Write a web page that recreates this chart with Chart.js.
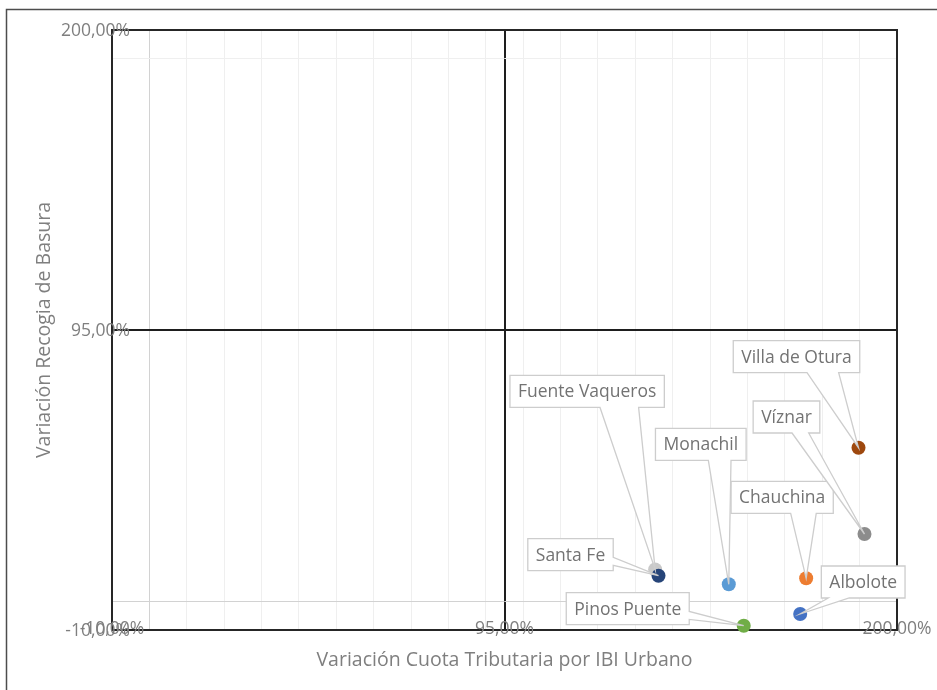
<!DOCTYPE html>
<html>
<head>
<meta charset="utf-8">
<script src="https://cdn.jsdelivr.net/npm/chart.js@4"></script>
<style>
  html, body { margin: 0; padding: 0; background: #fff; }
  canvas { display: block; }
</style>
</head>
<body>
<canvas id="cuadrante" width="937" height="690"></canvas>
<script>
const municipios = ['Albolote', 'Chauchina', 'Fuente Vaqueros', 'Monachil', 'Pinos Puente', 'Santa Fe', 'Víznar', 'Villa de Otura'];
const variacionIBI = [174.1, 175.7, 135.3, 155.0, 159.0, 136.2, 191.3, 189.7];
const variacionBasura = [-4.4, 8.1, 11.2, 6.0, -8.5, 9.0, 23.6, 53.8];
const tickValues = [-10, 95, 200];

const colores = ['#4472C4', '#ED7D31', '#C9C9C9', '#5B9BD5', '#70AD47', '#264478', '#8C8C8C', '#9E480E'];
// where each callout box sits, relative to its point (px)
const calloutOffsets = [[63, -32], [-24, -81], [-68, -178], [-28, -140], [-116, -17], [-88, -21], [-78, -117], [-62, -91]];

const gris = '#7f7f7f';
const fmt = v => v.toFixed(2).replace('.', ',') + '%';

const puntos = variacionIBI.map((x, i) => ({ x: x, y: variacionBasura[i] }));

const xTicks = [];
for (let v = -10; v <= 200; v += 10) {
    xTicks.push(v);
    if (v === 90) xTicks.push(95);
}
const yTicks = [-10, 0, 95, 190, 200];

function gridColor(ctx) {
    const v = ctx.tick.value;
    if (v === 95) return '#1e1e1e';
    if (v === 0) return '#d2d2d2';
    if (v === -10 || v === 200) return 'rgba(0,0,0,0)';
    return '#efefef';
}

const marco = {
    id: 'marco',
    beforeDraw(chart) {
        const ctx = chart.ctx;
        ctx.save();
        ctx.strokeStyle = '#4d4d4d';
        ctx.lineWidth = 1.5;
        ctx.beginPath();
        ctx.moveTo(6.5, 690);
        ctx.lineTo(6.5, 9.5);
        ctx.lineTo(937, 9.5);
        ctx.stroke();
        ctx.restore();
    },
    beforeDatasetsDraw(chart) {
        const { ctx, chartArea: a, scales } = chart;
        ctx.save();
        ctx.strokeStyle = '#262626';
        ctx.lineWidth = 2;
        ctx.strokeRect(a.left, a.top, a.right - a.left, a.bottom - a.top);

        // tick labels, sitting across the axis lines like the original
        ctx.fillStyle = gris;
        ctx.font = '17.5px "Open Sans"';
        ctx.textBaseline = 'middle';
        ctx.textAlign = 'right';
        tickValues.forEach(v => {
            ctx.fillText(fmt(v), a.left + 18, scales.y.getPixelForValue(v) + 1);
        });
        ctx.textAlign = 'center';
        tickValues.forEach(v => {
            ctx.fillText(fmt(v), scales.x.getPixelForValue(v), a.bottom - 1);
        });
        ctx.restore();
    },
    afterDatasetsDraw(chart) {
        const ctx = chart.ctx;
        const meta = chart.getDatasetMeta(0);
        ctx.save();
        ctx.font = '17.5px "Open Sans"';
        meta.data.forEach((pt, i) => {
            const px = pt.x, py = pt.y;
            const [dx, dy] = calloutOffsets[i];
            const text = municipios[i];
            const w = ctx.measureText(text).width + 16;
            const h = 32;
            const cx = px + dx, cy = py + dy;
            const l = cx - w / 2, r = cx + w / 2, t = cy - h / 2, b = cy + h / 2;
            const horiz = Math.abs(dx) / w > Math.abs(dy) / h;
            const pts = [[l, t], [r, t], [r, b], [l, b]];
            if (horiz) {
                const f = py > cy ? [7 / 12, 10 / 12] : [2 / 12, 5 / 12];
                if (px > cx) {
                    pts.splice(2, 0, [r, t + f[0] * h], [px, py], [r, t + f[1] * h]);
                } else {
                    pts.push([l, t + f[1] * h], [px, py], [l, t + f[0] * h]);
                }
            } else {
                const f = px > cx ? [7 / 12, 10 / 12] : [1 / 12, 4 / 12];
                if (py > cy) {
                    pts.splice(3, 0, [l + f[1] * w, b], [px, py], [l + f[0] * w, b]);
                } else {
                    pts.splice(1, 0, [l + f[0] * w, t], [px, py], [l + f[1] * w, t]);
                }
            }
            ctx.beginPath();
            pts.forEach((p, k) => k ? ctx.lineTo(p[0], p[1]) : ctx.moveTo(p[0], p[1]));
            ctx.closePath();
            ctx.fillStyle = '#ffffff';
            ctx.fill();
            ctx.strokeStyle = '#cdcdcd';
            ctx.lineWidth = 1.3;
            ctx.stroke();
            ctx.fillStyle = '#737373';
            ctx.textAlign = 'center';
            ctx.textBaseline = 'middle';
            ctx.fillText(text, cx, cy + 1);
        });
        ctx.restore();
    }
};

new Chart(document.getElementById('cuadrante'), {
    type: 'scatter',
    data: {
        datasets: [{
            label: 'Municipios',
            data: puntos,
            pointRadius: 7,
            pointHoverRadius: 7,
            pointBorderWidth: 0,
            pointBackgroundColor: colores,
            clip: false,
        }],
    },
    options: {
        responsive: false,
        animation: false,
        layout: { padding: { left: 0, right: 40, top: 30, bottom: 0 } },
        plugins: {
            legend: { display: false },
            tooltip: { enabled: false },
        },
        scales: {
            x: {
                type: 'linear',
                min: -10,
                max: 200,
                afterBuildTicks: s => { s.ticks = xTicks.map(v => ({ value: v })); },
                afterFit: s => { s.height = 60; },
                ticks: { display: false, autoSkip: false },
                grid: {
                    color: gridColor,
                    lineWidth: c => c.tick.value === 95 ? 2 : 1,
                    drawTicks: false,
                },
                border: { display: false },
                title: {
                    display: true,
                    text: 'Variación Cuota Tributaria por IBI Urbano',
                    color: gris,
                    font: { family: 'Open Sans', size: 19.5 },
                    padding: { top: 0, bottom: 18 },
                },
            },
            y: {
                type: 'linear',
                min: -10,
                max: 200,
                afterBuildTicks: s => { s.ticks = yTicks.map(v => ({ value: v })); },
                afterFit: s => { s.width = 112; },
                ticks: { display: false, autoSkip: false },
                grid: {
                    color: gridColor,
                    lineWidth: c => c.tick.value === 95 ? 2 : 1,
                    drawTicks: false,
                },
                border: { display: false },
                title: {
                    display: true,
                    text: 'Variación Recogia de Basura',
                    color: gris,
                    font: { family: 'Open Sans', size: 19.5 },
                    padding: { top: 33, bottom: 0 },
                },
            },
        },
    },
    plugins: [marco],
});
</script>
</body>
</html>
